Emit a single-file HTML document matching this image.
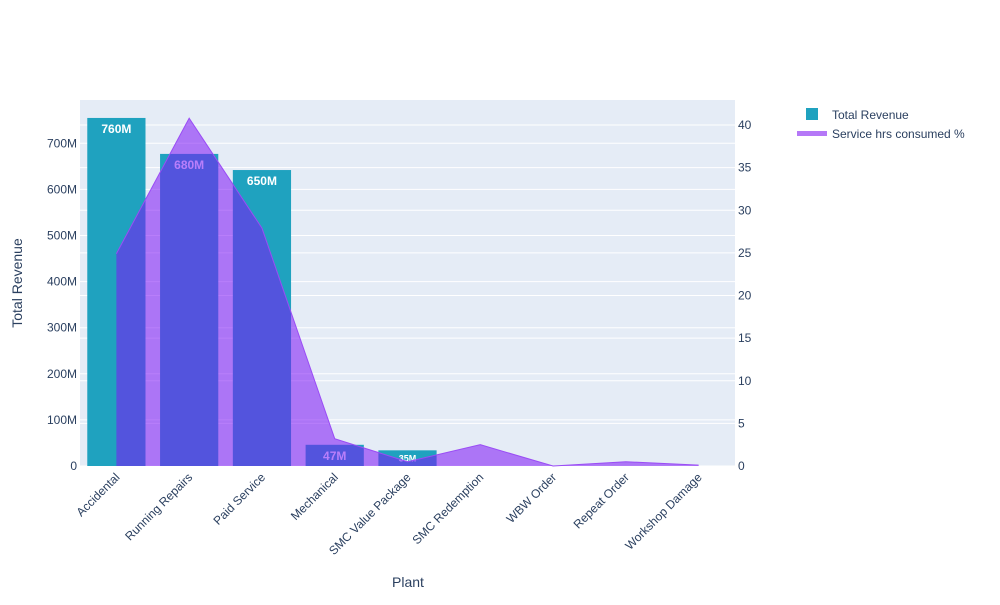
<!DOCTYPE html>
<html><head><meta charset="utf-8"><style>body{margin:0;background:#fff}svg{font-family:"Liberation Sans",Arial,sans-serif}</style></head>
<body>
<svg id="chart" width="1000" height="600" xmlns="http://www.w3.org/2000/svg"></svg>
<script>
const categories=["Accidental","Running Repairs","Paid Service","Mechanical","SMC Value Package","SMC Redemption","WBW Order","Repeat Order","Workshop Damage"];
const revenue=[755,677,642,46,34,0,0,0,0];
const revenueLabels=["760M","680M","650M","47M","35M","","","",""];
const hours=[24.9,40.8,27.9,3.2,0.5,2.5,0,0.5,0.1];
const leftTicks=[0,100,200,300,400,500,600,700];
const rightTicks=[0,5,10,15,20,25,30,35,40];
const NS="http://www.w3.org/2000/svg";
const svg=document.getElementById('chart');
const X0=80,X1=735,Y0=466,Y1=100;
const bw=(X1-X0)/categories.length;
const xc=i=>X0+bw*(i+0.5);
const yL=v=>Y0-v*0.461;
const yR=v=>Y0-v*8.525;
function mk(t,a,p){const e=document.createElementNS(NS,t);for(const k in a)e.setAttribute(k,a[k]);(p||svg).appendChild(e);return e;}
let bg=mk('rect',{x:X0,y:Y1,width:X1-X0,height:Y0-Y1,fill:'#e5ecf6'});

leftTicks.forEach(t=>{const y=yL(t);
 const g=mk('line',{x1:X0,x2:X1,y1:y,y2:y,stroke:'#fff','stroke-width':1});
 
 const tx=mk('text',{x:X0-3,y:y+4,'text-anchor':'end','font-size':12,fill:'#2a3f5f'});tx.textContent=t===0?'0':t+'M';
 });
rightTicks.forEach(t=>{const y=yR(t);
 const g=mk('line',{x1:X0,x2:X1,y1:y,y2:y,stroke:'#fff','stroke-width':1});
 
 const tx=mk('text',{x:X1+3,y:y+4,'font-size':12,fill:'#2a3f5f'});tx.textContent=t;
 });
categories.forEach((c,i)=>{
 const v=revenue[i];const h=Y0-yL(v);
 const b=mk('rect',{x:xc(i)-bw*0.4,y:yL(v),width:bw*0.8,height:h,fill:'#1fa2bf'});
 
 if(revenueLabels[i]){const fs=h>18?12:9;
  const t=mk('text',{x:xc(i),y:yL(v)+(h>18?15:11),'text-anchor':'middle','font-size':fs,'font-weight':'bold',fill:'#fff'});t.textContent=revenueLabels[i];
  }
 const tl=mk('text',{transform:`translate(${xc(i)+4},${Y0+12}) rotate(-45)`,'text-anchor':'end','font-size':12,fill:'#2a3f5f'});tl.textContent=c;
 
});
let pts=hours.map((v,i)=>xc(i)+','+yR(v)).join(' ');
const area=mk('polygon',{points:xc(0)+','+Y0+' '+pts+' '+xc(hours.length-1)+','+Y0,fill:'rgba(125,20,245,0.55)'});

const ln=mk('polyline',{points:pts,fill:'none',stroke:'#9a4cf5','stroke-width':1});

let yt=mk('text',{transform:'translate(22,283) rotate(-90)','text-anchor':'middle','font-size':14,fill:'#2a3f5f'});yt.textContent='Total Revenue';

let xt=mk('text',{x:408,y:587,'text-anchor':'middle','font-size':14,fill:'#2a3f5f'});xt.textContent='Plant';

let l1=mk('rect',{x:806,y:108,width:12,height:12,fill:'#1fa2bf'});

let t1=mk('text',{x:832,y:119,'font-size':12,fill:'#2a3f5f'});t1.textContent='Total Revenue';

let l2=mk('rect',{x:797,y:131,width:30,height:5,fill:'#b578f7'});

let t2=mk('text',{x:832,y:138,'font-size':12,fill:'#2a3f5f'});t2.textContent='Service hrs consumed %';

</script>
</body></html>
